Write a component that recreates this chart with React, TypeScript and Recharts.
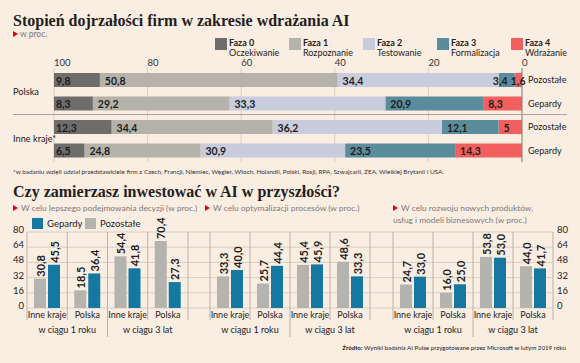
import React from "react";
import {
  BarChart,
  Bar,
  XAxis,
  YAxis,
  CartesianGrid,
  LabelList,
  ReferenceLine,
} from "recharts";

// top chart: maturity phases
const fazaNames = ["Faza 0", "Faza 1", "Faza 2", "Faza 3", "Faza 4"];
const fazaLabels = ["Oczekiwanie", "Rozpoznanie", "Testowanie", "Formalizacja", "Wdrażanie"];
const fazaColors = ["#6e6d6b", "#b4b2a9", "#c8ccdc", "#5b8c9c", "#f1605e"];

const rowNames = ["Pozostałe", "Gepardy", "Pozostałe", "Gepardy"];
const rowCountries = ["Polska", "Polska", "Inne kraje*", "Inne kraje*"];
const faza0 = [9.8, 8.3, 12.3, 6.5];
const faza1 = [50.8, 29.2, 34.4, 24.8];
const faza2 = [34.4, 33.3, 36.2, 30.9];
const faza3 = [3.4, 20.9, 12.1, 23.5];
const faza4 = [1.6, 8.3, 5, 14.3];
const topTicks = [0, 20, 40, 60, 80, 100];

// bottom charts: investment plans
const barCountries = ["Inne kraje", "Polska", "Inne kraje", "Polska"];
const barPeriods = ["w ciągu 1 roku", "w ciągu 1 roku", "w ciągu 3 lat", "w ciągu 3 lat"];
const decyzjePozostale = [30.8, 18.5, 54.4, 70.4];
const decyzjeGepardy = [45.5, 36.4, 41.8, 27.3];
const procesyPozostale = [33.3, 25.7, 45.4, 48.6];
const procesyGepardy = [40.0, 44.4, 45.9, 33.3];
const produktyPozostale = [24.7, 16.0, 53.8, 44.0];
const produktyGepardy = [33.0, 25.0, 53.0, 41.7];
const bottomTicks = [0, 16, 32, 48, 64, 80];

const SANS = "Lato, 'Noto Sans', sans-serif";
const SERIF = "'Liberation Serif', serif";
const BG = "#faede2";
const GRAY = "#b4b3ae";
const BLUE = "#1478a0";

const topData = rowNames.map((s, i) => ({
  series: s,
  country: rowCountries[i],
  f0: faza0[i],
  f1: faza1[i],
  f2: faza2[i],
  f3: faza3[i],
  f4: faza4[i],
}));

const box = (p: any) => {
  const vb = p.viewBox && p.viewBox.width !== undefined ? p.viewBox : p;
  return { x: Number(vb.x), y: Number(vb.y), w: Number(vb.width), h: Number(vb.height) };
};

const topLabel = (key: string) => (props: any) => {
  const { x, y, w, h } = box(props);
  const left = Math.min(x, x + w);
  const width = Math.abs(w);
  const txt = String(props.value).replace(".", ",");
  let tx = left + (key === "f0" ? 2 : 5);
  let anchor: any = "start";
  if (width < txt.length * 5.5 + 6) {
    // narrow segments: push the label out of the way of its neighbour
    anchor = "end";
    tx = key === "f4" ? left + width + 3.5 : left + width - 7;
  }
  return (
    <text x={tx} y={y + h / 2 + 0.5} textAnchor={anchor} dominantBaseline="central"
      fontSize={10.5} fontWeight="bold" fill="#1d1d1d" fontFamily={SANS}>
      {txt}
    </text>
  );
};

const TopTick = (props: any) => (
  <text x={props.x} y={66} textAnchor="start" fontSize={9.5} fill="#333" fontFamily={SANS}>
    {props.payload.value}
  </text>
);

const CountryTick = (props: any) => {
  const { y, payload } = props;
  if (payload.index % 2 !== 0) return <g />;
  const off = payload.offset ?? 11.75;
  return (
    <text x={13} y={y + off} dominantBaseline="central" fontSize={9.2} fill="#222" fontFamily={SANS}>
      {rowCountries[payload.index]}
    </text>
  );
};

const SeriesTick = (props: any) => (
  <text x={props.x} y={props.y} dominantBaseline="central" fontSize={9} fill="#222" fontFamily={SANS}>
    {rowNames[props.payload.index]}
  </text>
);

const fmt1 = (v: number) => v.toFixed(1).replace(".", ",");

const bottomLabel = (props: any) => {
  const { x, y, w, h } = box(props);
  const top = Math.min(y, y + h);
  return (
    <text transform={`translate(${x + w / 2},${top - 2}) rotate(-90)`} textAnchor="start"
      dominantBaseline="central" fontSize={11} fontWeight="bold" fill="#1d1d1d" fontFamily={SANS}>
      {fmt1(Number(props.value))}
    </text>
  );
};

const PLOT_TOP = 32;

const XTick = (props: any) => {
  const { x, y, payload } = props;
  const i = payload.index;
  const off = payload.offset ?? 20;
  const lineColor = "#bcb2a8";
  const leftLen = i === 2 ? 29 : 12;
  return (
    <g>
      <line x1={x - off} x2={x - off} y1={PLOT_TOP} y2={y + leftLen} stroke={lineColor} />
      {i === 3 && <line x1={x + off} x2={x + off} y1={PLOT_TOP} y2={y + 12} stroke={lineColor} />}
      <text x={x} y={y + 9.5} textAnchor="middle" fontSize={9} fill="#222" fontFamily={SANS}>
        {barCountries[i]}
      </text>
      {i % 2 === 0 && (
        <text x={x + off} y={y + 24.5} textAnchor="middle" fontSize={9} fill="#222" fontFamily={SANS}>
          {barPeriods[i]}
        </text>
      )}
    </g>
  );
};

const YTick = (props: any) => (
  <text x={props.x} y={props.y - 2.5} textAnchor={props.textAnchor} dominantBaseline="central"
    fontSize={9.5} fill="#222" fontFamily={SANS}>
    {props.payload.value}
  </text>
);

function Panel(p: {
  left: number;
  width: number;
  pozostale: number[];
  gepardy: number[];
  axis: "left" | "right" | "none";
  padLeft: number;
  padRight: number;
}) {
  const data = barCountries.map((c, i) => ({
    country: c,
    period: barPeriods[i],
    pozostale: p.pozostale[i],
    gepardy: p.gepardy[i],
  }));
  return (
    <div style={{ position: "absolute", left: p.left, top: 200 }}>
      <BarChart width={p.width} height={145} data={data}
        margin={{ top: PLOT_TOP, right: 0, bottom: 0, left: 0 }} barSize={12} barGap={2}>
        <CartesianGrid vertical={false} stroke="#d9cfc5" />
        <XAxis dataKey="country" height={37} padding={{ left: p.padLeft, right: p.padRight }}
          axisLine={false} tickLine={false} tickSize={0} tickMargin={0} interval={0} tick={<XTick />} />
        <YAxis orientation={p.axis === "right" ? "right" : "left"} hide={p.axis === "none"}
          width={27} domain={[0, 80]} ticks={bottomTicks} interval={0} axisLine={false} tickLine={false}
          tickSize={0} tickMargin={p.axis === "right" ? 4 : 3} tick={<YTick />} />
        <Bar dataKey="pozostale" fill={GRAY} isAnimationActive={false}>
          <LabelList dataKey="pozostale" content={bottomLabel} />
        </Bar>
        <Bar dataKey="gepardy" fill={BLUE} isAnimationActive={false}>
          <LabelList dataKey="gepardy" content={bottomLabel} />
        </Bar>
      </BarChart>
    </div>
  );
}

const Tri = ({ x, y }: { x: number; y: number }) => (
  <div style={{ position: "absolute", left: x, top: y, width: 0, height: 0,
    borderTop: "3.5px solid transparent", borderBottom: "3.5px solid transparent",
    borderLeft: "5px solid #e3001b" }} />
);

const Txt = (p: { x: number; y: number; size: number; children: any; style?: any }) => (
  <div style={{ position: "absolute", left: p.x, top: p.y, fontSize: p.size, lineHeight: `${p.size}px`,
    fontFamily: SANS, color: "#222", whiteSpace: "nowrap", ...p.style }}>
    {p.children}
  </div>
);

export default function App() {
  const stackOrder = ["f4", "f3", "f2", "f1", "f0"];
  const sub = { color: "#7b7b7b" };
  return (
    <div style={{ position: "absolute", left: 0, top: 0, width: 580, height: 363, background: BG, overflow: "hidden" }}>
      <div style={{ position: "absolute", left: 13, top: 12.5, fontFamily: SERIF, fontWeight: "bold",
        fontSize: 16, lineHeight: "16px", color: "#1f1f1f", whiteSpace: "nowrap" }}>
        Stopień dojrzałości firm w zakresie wdrażania AI
      </div>
      <Tri x={13} y={30.5} />
      <Txt x={20} y={29.5} size={8.5} style={sub}>w proc.</Txt>

      {fazaNames.map((n, i) => (
        <div key={n}>
          <div style={{ position: "absolute", left: 215 + i * 74, top: 38, width: 12, height: 12, background: fazaColors[i] }} />
          <Txt x={229 + i * 74} y={37.5} size={9} style={{ fontWeight: "bold" }}>{n}</Txt>
          <Txt x={229 + i * 74} y={48} size={9}>{fazaLabels[i]}</Txt>
        </div>
      ))}

      <div style={{ position: "absolute", left: 0, top: 0 }}>
        <BarChart width={580} height={162} layout="vertical" data={topData}
          margin={{ top: 0, right: 0, bottom: 0, left: 0 }} barSize={14}>
          <CartesianGrid horizontal={false} stroke="#d9cfc5" yAxisId="left" />
          <XAxis type="number" domain={[0, 100]} ticks={topTicks} reversed orientation="top" height={68}
            axisLine={false} tickLine={false} tick={<TopTick />} />
          <YAxis yAxisId="left" type="category" dataKey="country" width={54} axisLine={false}
            tickLine={false} interval={0} tick={<CountryTick />} />
          <YAxis yAxisId="right" orientation="right" type="category" dataKey="series" width={58}
            axisLine={false} tickLine={false} tickSize={0} tickMargin={6} interval={0} tick={<SeriesTick />} />
          {stackOrder.map((k) => {
            const idx = Number(k.slice(1));
            return (
              <Bar key={k} yAxisId="left" dataKey={k} stackId="a" fill={fazaColors[idx]} isAnimationActive={false}>
                <LabelList dataKey={k} content={topLabel(k)} />
              </Bar>
            );
          })}
          <ReferenceLine yAxisId="left" x={0} stroke="#8c8782" />
        </BarChart>
      </div>
      <div style={{ position: "absolute", left: 13, top: 114, width: 554, height: 1, background: "#aaa39c" }} />

      <Txt x={13} y={169} size={6.4} style={{ color: "#333" }}>
        *w badaniu wzięli udział przedstawiciele firm z Czech, Francji, Niemiec, Węgier, Włoch, Holandii, Polski, Rosji, RPA, Szwajcarii, ZEA, Wielkiej Brytanii i USA.
      </Txt>

      <div style={{ position: "absolute", left: 13, top: 183.5, fontFamily: SERIF, fontWeight: "bold",
        fontSize: 16, lineHeight: "16px", color: "#1f1f1f", whiteSpace: "nowrap" }}>
        Czy zamierzasz inwestować w AI w przyszłości?
      </div>

      <Tri x={13} y={204.5} />
      <Txt x={21} y={204} size={8.4} style={sub}>W celu lepszego podejmowania decyzji (w proc.)</Txt>
      <Tri x={205} y={204.5} />
      <Txt x={213} y={204} size={8.4} style={sub}>W celu optymalizacji procesów (w proc.)</Txt>
      <Tri x={393} y={204.5} />
      <Txt x={401} y={204} size={8.4} style={sub}>W celu rozwoju nowych produktów,</Txt>
      <Txt x={393} y={215.5} size={8.4} style={sub}>usług i modeli biznesowych (w proc.)</Txt>

      <div style={{ position: "absolute", left: 32, top: 218, width: 11, height: 11, background: BLUE }} />
      <Txt x={47} y={218.5} size={9.5}>Gepardy</Txt>
      <div style={{ position: "absolute", left: 85, top: 218, width: 11, height: 11, background: GRAY }} />
      <Txt x={100} y={218.5} size={9.5}>Pozostałe</Txt>

      <Panel left={0} width={199} pozostale={decyzjePozostale} gepardy={decyzjeGepardy} axis="left" padLeft={0} padRight={11} />
      <Panel left={199} width={182} pozostale={procesyPozostale} gepardy={procesyGepardy} axis="none" padLeft={11} padRight={11} />
      <Panel left={381} width={199} pozostale={produktyPozostale} gepardy={produktyGepardy} axis="right" padLeft={12} padRight={0} />

      <div style={{ position: "absolute", right: 14, top: 344, fontSize: 6.2, lineHeight: "7px",
        fontFamily: SANS, color: "#222", whiteSpace: "nowrap" }}>
        <b>Źródło:</b> Wyniki badania AI Pulse przygotowane przez Microsoft w lutym 2019 roku
      </div>
    </div>
  );
}
